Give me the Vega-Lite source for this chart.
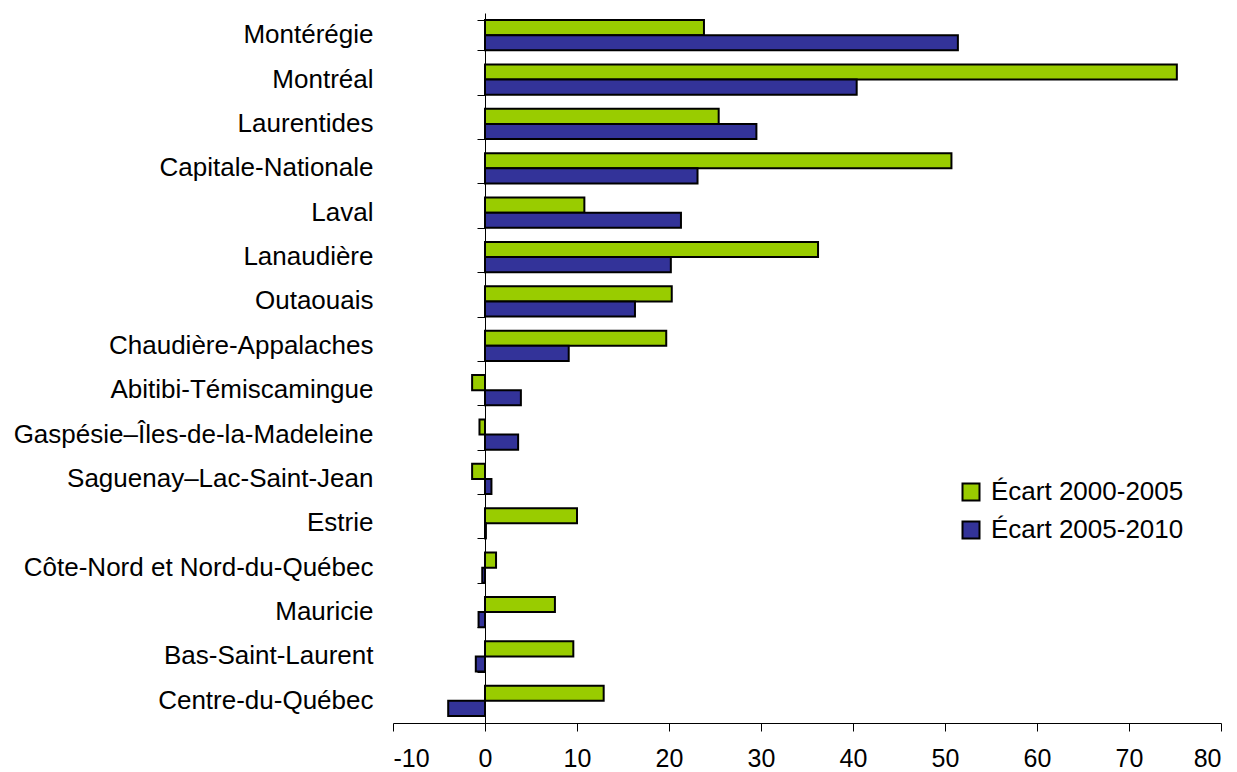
{
  "$schema": "https://vega.github.io/schema/vega-lite/v6.json",
  "width": 828,
  "height": 710,
  "autosize": {"type": "none"},
  "padding": {"left": 393, "top": 13, "right": 16, "bottom": 49},
  "background": "white",
  "config": {
    "view": {"stroke": null},
    "font": "Liberation Sans",
    "axis": {"grid": false, "domainColor": "black", "tickColor": "black", "labelColor": "black", "labelFont": "Liberation Sans"}
  },
  "data": {
    "values": [
      {"region": "Montérégie", "series": "Écart 2000-2005", "value": 23.8},
      {"region": "Montérégie", "series": "Écart 2005-2010", "value": 51.4},
      {"region": "Montréal", "series": "Écart 2000-2005", "value": 75.2},
      {"region": "Montréal", "series": "Écart 2005-2010", "value": 40.4},
      {"region": "Laurentides", "series": "Écart 2000-2005", "value": 25.4},
      {"region": "Laurentides", "series": "Écart 2005-2010", "value": 29.5},
      {"region": "Capitale-Nationale", "series": "Écart 2000-2005", "value": 50.7},
      {"region": "Capitale-Nationale", "series": "Écart 2005-2010", "value": 23.1},
      {"region": "Laval", "series": "Écart 2000-2005", "value": 10.8},
      {"region": "Laval", "series": "Écart 2005-2010", "value": 21.3},
      {"region": "Lanaudière", "series": "Écart 2000-2005", "value": 36.2},
      {"region": "Lanaudière", "series": "Écart 2005-2010", "value": 20.2},
      {"region": "Outaouais", "series": "Écart 2000-2005", "value": 20.3},
      {"region": "Outaouais", "series": "Écart 2005-2010", "value": 16.3},
      {"region": "Chaudière-Appalaches", "series": "Écart 2000-2005", "value": 19.7},
      {"region": "Chaudière-Appalaches", "series": "Écart 2005-2010", "value": 9.1},
      {"region": "Abitibi-Témiscamingue", "series": "Écart 2000-2005", "value": -1.4},
      {"region": "Abitibi-Témiscamingue", "series": "Écart 2005-2010", "value": 3.9},
      {"region": "Gaspésie–Îles-de-la-Madeleine", "series": "Écart 2000-2005", "value": -0.6},
      {"region": "Gaspésie–Îles-de-la-Madeleine", "series": "Écart 2005-2010", "value": 3.6},
      {"region": "Saguenay–Lac-Saint-Jean", "series": "Écart 2000-2005", "value": -1.4},
      {"region": "Saguenay–Lac-Saint-Jean", "series": "Écart 2005-2010", "value": 0.7},
      {"region": "Estrie", "series": "Écart 2000-2005", "value": 10.0},
      {"region": "Estrie", "series": "Écart 2005-2010", "value": 0.1},
      {"region": "Côte-Nord et Nord-du-Québec", "series": "Écart 2000-2005", "value": 1.2},
      {"region": "Côte-Nord et Nord-du-Québec", "series": "Écart 2005-2010", "value": -0.3},
      {"region": "Mauricie", "series": "Écart 2000-2005", "value": 7.6},
      {"region": "Mauricie", "series": "Écart 2005-2010", "value": -0.7},
      {"region": "Bas-Saint-Laurent", "series": "Écart 2000-2005", "value": 9.6},
      {"region": "Bas-Saint-Laurent", "series": "Écart 2005-2010", "value": -1.0},
      {"region": "Centre-du-Québec", "series": "Écart 2000-2005", "value": 12.9},
      {"region": "Centre-du-Québec", "series": "Écart 2005-2010", "value": -4.0}
    ]
  },
  "layer": [
    {
      "mark": {"type": "bar", "stroke": "black", "strokeWidth": 2, "opacity": 1},
      "encoding": {
        "y": {
          "field": "region", "type": "nominal", "sort": null,
          "scale": {"paddingInner": 0.32, "paddingOuter": 0.16},
          "axis": {"title": null, "orient": "left", "domain": false, "ticks": false, "labelPadding": 20, "labelFontSize": 26, "labelLimit": 400}
        },
        "yOffset": {"field": "series", "type": "nominal", "scale": {"paddingInner": 0, "paddingOuter": 0}},
        "x": {
          "field": "value", "type": "quantitative",
          "scale": {"domain": [-10, 80], "nice": false, "zero": false},
          "axis": {"title": null, "values": [-10, 0, 10, 20, 30, 40, 50, 60, 70, 80], "labelExpr": "replace(datum.label, '−', '-')", "tickSize": 8, "labelPadding": 15, "labelFontSize": 25, "domainWidth": 1, "tickWidth": 1}
        },
        "color": {
          "field": "series", "type": "nominal",
          "scale": {"domain": ["Écart 2000-2005", "Écart 2005-2010"], "range": ["#99CC00", "#333399"]},
          "legend": {
            "title": null, "orient": "none", "legendX": 565, "legendY": 466,
            "symbolType": "square", "symbolSize": 289, "symbolStrokeColor": "black", "symbolStrokeWidth": 2, "symbolOpacity": 1,
            "labelFontSize": 26, "labelFont": "Liberation Sans", "labelColor": "black", "labelOffset": 7, "rowPadding": 12, "labelLimit": 400
          }
        }
      }
    },
    {
      "mark": {"type": "bar", "opacity": 0},
      "encoding": {
        "y": {
          "field": "region", "type": "nominal", "sort": null,
          "axis": {"title": null, "orient": "left", "offset": -92, "labels": false, "ticks": true, "tickBand": "extent", "tickSize": 8, "domain": true, "domainColor": "black", "tickColor": "black"}
        },
        "x": {"field": "value", "type": "quantitative"}
      }
    }
  ],
  "resolve": {"axis": {"y": "independent"}}
}
